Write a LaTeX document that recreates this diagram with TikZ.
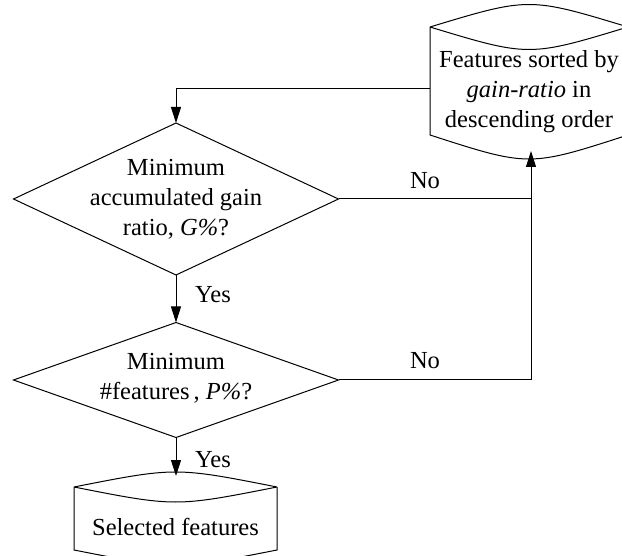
\documentclass[tikz,border=0pt]{standalone}
\usepackage{fontspec}
\setmainfont{Liberation Serif}
\usetikzlibrary{shapes.geometric,arrows.meta}
\begin{document}
\begin{tikzpicture}[x=1pt,y=-1pt,
  line width=1pt,
  every node/.style={font=\fontsize{24.5}{30}\selectfont},
  dec/.style={diamond,draw,inner sep=0pt,outer sep=0pt},
  txt/.style={align=center,inner sep=0pt},
  lbl/.style={inner sep=0pt},
  arr/.style={-{Triangle[length=16pt,width=10pt]}},
  cyl/.style={draw,line join=miter}
]
\useasboundingbox (0,0) rectangle (622,556);
% top cylinder
\draw[cyl] (430,27) .. controls (529,-3) .. (628,27)
           (430,27) .. controls (529,57) .. (628,27)
           (430,27) -- (430,135) .. controls (529,167) .. (628,135) -- (628,27);
\node[txt] (c1) at (529,92) {Features sorted by\\\textit{gain-ratio} in\\descending order};
\coordinate (c1w) at (430,89);
\coordinate (c1s) at (531,151);
% diamonds
\node[dec,minimum width=325pt,minimum height=152pt] (d1) at (176,199) {};
\node[txt] (t1) at (d1.center) {Minimum\\accumulated gain\\ratio, \textit{G\%}?};
\node[dec,minimum width=325pt,minimum height=115pt] (d2) at (176,380) {};
\node[txt] (t2) at ([yshift=2pt]d2.center) {Minimum\\\#features\,, \textit{P\%}?};
% bottom cylinder
\draw[cyl] (74,487) .. controls (175.5,467) .. (277,487)
           (74,487) .. controls (175.5,507) .. (277,487)
           (74,487) -- (74,550) .. controls (175.5,570) .. (277,550) -- (277,487);
\node[txt] (c2) at (175.5,527) {Selected features};
\coordinate (c2n) at (176,476);
% connectors
\draw[arr] (c1w) -| (d1.north);
\draw[arr] (d1.south) -- (d2.north);
\draw[arr] (d2.south) -- (c2n);
\draw (d1.east) -- (d1.east -| c1s);
\draw[arr] (d2.east) -| (c1s);
% labels
\node[lbl] (no1) at (425,181) {No};
\node[lbl] (no2) at (425,361) {No};
\node[lbl] (yes1) at (213,295) {Yes};
\node[lbl] (yes2) at (213,460) {Yes};
\end{tikzpicture}
\end{document}
